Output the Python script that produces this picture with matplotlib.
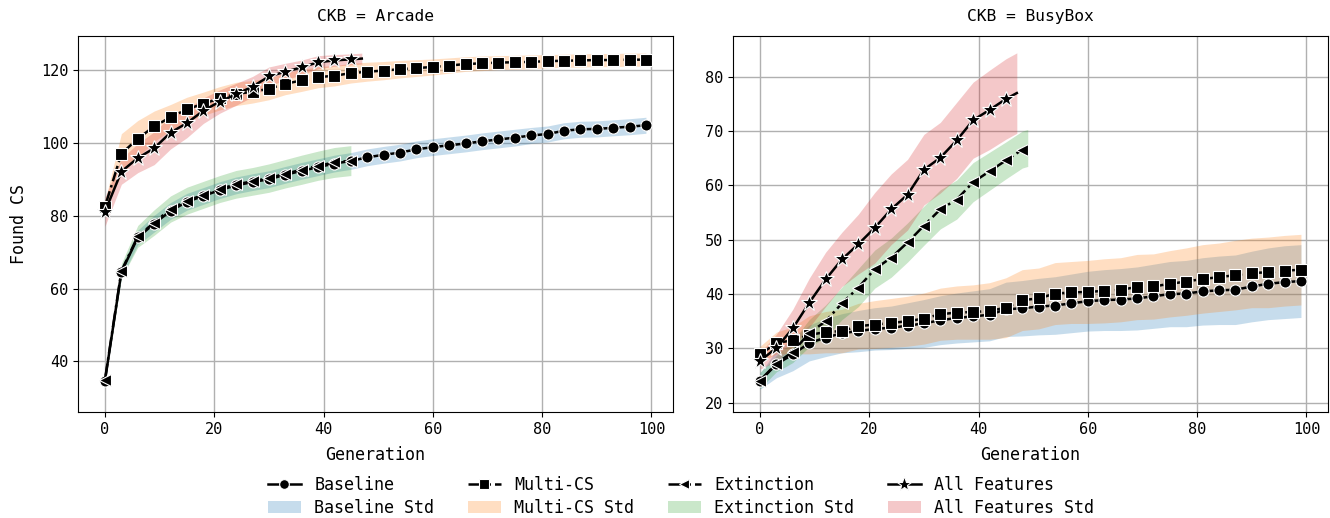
import matplotlib
matplotlib.use('Agg')
import matplotlib.pyplot as plt
from matplotlib.lines import Line2D
from matplotlib.patches import Patch
import numpy as np

plt.rcParams['font.family'] = ['DejaVu Sans Mono']

# generations at which the runs were sampled (every 3rd, plus last generation of short runs)
GEN_LONG = list(range(0, 100, 3))
GEN_AF = list(range(0, 46, 3)) + [47]
GEN_EXT_ARCADE = list(range(0, 46, 3))
GEN_EXT_BUSYBOX = list(range(0, 49, 3)) + [49]

# CKB = Arcade
arcade_baseline = [34.7, 64.5, 74.0, 77.8, 81.3, 83.8, 85.4, 87.0, 88.3, 89.2, 90.0, 91.2,
                   92.3, 93.3, 94.3, 95.0, 96.0, 96.7, 97.3, 98.2, 98.8, 99.3, 99.8, 100.4,
                   100.9, 101.4, 102.0, 102.4, 103.3, 103.7, 103.8, 104.1, 104.4, 104.8]
arcade_baseline_std = [0.5, 1.5, 2.0, 2.3, 2.3, 2.3, 2.3, 2.3, 2.3, 2.3, 2.3, 2.3,
                       2.3, 2.3, 2.3, 2.3, 2.3, 2.3, 2.3, 2.3, 2.3, 2.3, 2.3, 2.3,
                       2.3, 2.3, 2.2, 2.2, 2.2, 2.2, 2.2, 2.2, 2.2, 2.2]
arcade_multi = [82.5, 97.0, 101.1, 104.5, 107.0, 109.2, 110.7, 112.2, 113.4, 114.0, 114.8, 116.2,
                117.1, 118.0, 118.4, 119.1, 119.5, 119.8, 120.2, 120.5, 120.8, 121.2, 121.6, 121.8,
                122.0, 122.1, 122.2, 122.4, 122.5, 122.6, 122.7, 122.7, 122.8, 122.8]
arcade_multi_std = [1.5, 5.5, 5.0, 4.2, 3.5, 3.3, 3.2, 3.2, 3.2, 3.1, 3.0, 3.0,
                    3.0, 2.9, 2.8, 2.7, 2.6, 2.5, 2.4, 2.3, 2.2, 2.1, 2.0, 2.0,
                    1.9, 1.9, 1.9, 1.8, 1.8, 1.8, 1.8, 1.8, 1.8, 1.8]
arcade_ext = [35.0, 64.8, 74.3, 78.1, 81.8, 84.1, 85.7, 87.3, 88.6, 89.4, 90.3, 91.5,
              92.6, 93.7, 94.6, 95.1]
arcade_ext_std = [0.5, 2.0, 3.0, 3.5, 3.6, 3.7, 3.7, 3.7, 3.8, 3.8, 3.9, 3.9,
                  4.0, 4.0, 4.1, 4.1]
arcade_af = [81.1, 92.1, 95.8, 98.5, 102.8, 105.4, 108.8, 111.3, 113.3, 115.4, 118.2, 119.5,
             120.7, 122.1, 122.6, 122.9, 123.1]
arcade_af_std = [4.0, 3.5, 4.0, 4.5, 4.5, 4.0, 3.5, 3.2, 3.0, 2.8, 2.6, 2.3,
                 2.0, 1.8, 1.6, 1.5, 1.5]

# CKB = BusyBox
busybox_baseline = [24.0, 27.1, 28.9, 31.0, 32.0, 32.8, 33.2, 33.6, 33.8, 34.2, 34.6, 35.2,
                    35.6, 35.9, 36.2, 37.2, 37.4, 37.7, 37.9, 38.3, 38.7, 38.9, 39.0, 39.2,
                    39.6, 40.0, 40.1, 40.5, 40.7, 40.8, 41.4, 41.9, 42.2, 42.4]
busybox_baseline_std = [1.5, 2.5, 3.0, 3.3, 3.5, 3.6, 3.8, 3.9, 4.0, 4.2, 4.4, 4.5,
                        4.6, 4.7, 4.8, 5.0, 5.1, 5.2, 5.3, 5.4, 5.5, 5.6, 5.7, 5.8,
                        5.9, 6.0, 6.1, 6.2, 6.3, 6.4, 6.5, 6.6, 6.7, 6.7]
busybox_multi = [28.9, 31.0, 31.5, 32.5, 33.0, 33.2, 34.1, 34.4, 34.7, 35.0, 35.5, 36.3,
                 36.6, 36.7, 36.9, 37.5, 38.9, 39.2, 40.1, 40.3, 40.4, 40.6, 40.8, 41.3,
                 41.4, 41.9, 42.3, 42.8, 43.1, 43.5, 43.9, 44.0, 44.3, 44.5]
busybox_multi_std = [1.5, 2.0, 2.5, 3.5, 3.8, 4.0, 4.2, 4.4, 4.5, 4.6, 4.7, 4.8,
                     4.9, 5.0, 5.2, 5.5, 5.6, 5.6, 5.7, 5.7, 5.8, 5.9, 5.9, 6.0,
                     6.0, 6.1, 6.2, 6.3, 6.3, 6.4, 6.4, 6.5, 6.5, 6.5]
busybox_ext = [24.1, 27.2, 29.4, 32.8, 35.0, 38.3, 41.2, 44.6, 46.7, 49.5, 52.6, 55.6,
               57.4, 60.6, 62.6, 64.6, 66.6, 66.9]
busybox_ext_std = [1.5, 1.5, 2.0, 2.5, 3.0, 3.0, 3.5, 3.5, 3.6, 3.6, 3.6, 3.6,
                   3.6, 3.6, 3.5, 3.4, 3.4, 3.4]
busybox_af = [27.7, 30.1, 33.7, 38.4, 42.7, 46.4, 49.2, 52.2, 55.6, 58.3, 62.9, 65.1,
              68.3, 72.0, 73.9, 75.9, 77.0]
busybox_af_std = [1.5, 2.5, 3.5, 4.5, 5.0, 5.0, 5.5, 6.5, 6.5, 6.5, 6.5, 6.5,
                  7.0, 7.0, 7.3, 7.4, 7.4]

SERIES = ['Baseline', 'Multi-CS', 'Extinction', 'All Features']
FILL_COLORS = ['#1f77b4', '#ff7f0e', '#2ca02c', '#d62728']
MARKERS = ['o', 's', '<', '*']
LINESTYLES = ['-', '-.', '-.', '-']
MARKER_SIZES = [8, 8, 8, 12]

panels = [
    ('CKB = Arcade', [
        (GEN_LONG, arcade_baseline, arcade_baseline_std),
        (GEN_LONG, arcade_multi, arcade_multi_std),
        (GEN_EXT_ARCADE, arcade_ext, arcade_ext_std),
        (GEN_AF, arcade_af, arcade_af_std),
    ], (26.1, 129.3), [40, 60, 80, 100, 120]),
    ('CKB = BusyBox', [
        (GEN_LONG, busybox_baseline, busybox_baseline_std),
        (GEN_LONG, busybox_multi, busybox_multi_std),
        (GEN_EXT_BUSYBOX, busybox_ext, busybox_ext_std),
        (GEN_AF, busybox_af, busybox_af_std),
    ], (18.3, 87.5), [20, 30, 40, 50, 60, 70, 80]),
]

fig = plt.figure(figsize=(13.3, 5.18), dpi=100)
axes = [fig.add_axes([0.0586, 0.2046, 0.4474, 0.7259]),
        fig.add_axes([0.5511, 0.2046, 0.4474, 0.7259])]

for ax, (title, runs, ylim, yticks) in zip(axes, panels):
    # std bands first, lines on top
    for (gens, mean, std), color in zip(runs, FILL_COLORS):
        mean = np.array(mean)
        std = np.array(std)
        ax.fill_between(gens, mean - std, mean + std, color=color, alpha=0.25,
                        linewidth=0)
    for i, (gens, mean, std) in enumerate(runs):
        mark = [g % 3 == 0 for g in gens]
        ax.plot(gens, mean, color='black', linestyle=LINESTYLES[i], linewidth=1.8,
                marker=MARKERS[i], markersize=MARKER_SIZES[i], markevery=mark,
                markeredgecolor='white', markeredgewidth=0.8)
    ax.set_title(title, fontsize=11.7, pad=11)
    ax.set_xlabel('Generation', fontsize=12, labelpad=7)
    ax.set_xlim(-4.95, 103.95)
    ax.set_xticks([0, 20, 40, 60, 80, 100])
    ax.set_ylim(*ylim)
    ax.set_yticks(yticks)
    ax.tick_params(labelsize=11)
    ax.grid(True, color='#b0b0b0', linewidth=1)
    ax.set_axisbelow(True)

axes[0].set_ylabel('Found CS', fontsize=12, labelpad=9)

handles = []
labels = []
for i, name in enumerate(SERIES):
    handles.append(Line2D([], [], color='black', linestyle=LINESTYLES[i], linewidth=1.8,
                          marker=MARKERS[i], markersize=MARKER_SIZES[i] - 1,
                          markeredgecolor='white', markeredgewidth=0.8))
    labels.append(name)
    handles.append(Patch(facecolor=FILL_COLORS[i], alpha=0.25, edgecolor='none'))
    labels.append(name + ' Std')

fig.legend(handles, labels, loc='lower center', bbox_to_anchor=(0.512, -0.027),
           ncol=4, frameon=False, fontsize=12, columnspacing=2.0, numpoints=1,
           labelspacing=0.3)

fig.savefig('out.png', dpi=100)
